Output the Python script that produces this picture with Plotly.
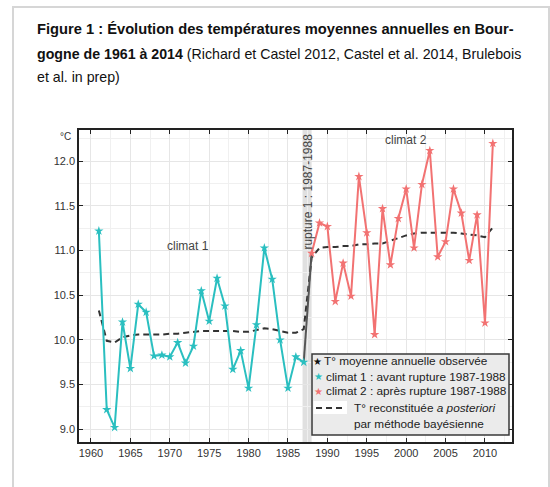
import plotly.graph_objects as go

# ---------------- data ----------------
years_c1 = list(range(1961, 1988))
temp_c1 = [11.22, 9.22, 9.02, 10.20, 9.68, 10.40, 10.31, 9.82, 9.83, 9.81,
           9.97, 9.74, 9.93, 10.55, 10.21, 10.69, 10.38, 9.67, 9.88, 9.46,
           10.17, 11.03, 10.68, 10.00, 9.46, 9.81, 9.75]
years_c2 = list(range(1988, 2012))
temp_c2 = [10.97, 11.31, 11.27, 10.43, 10.86, 10.49, 11.83, 11.20, 10.06, 11.47,
           10.84, 11.36, 11.69, 11.03, 11.74, 12.12, 10.93, 11.10, 11.69, 11.42,
           10.89, 11.40, 10.19, 12.20]
years_rec = list(range(1961, 2012))
temp_rec = [10.33, 9.99, 9.97, 10.03, 10.05, 10.06, 10.06, 10.06, 10.06, 10.07,
            10.07, 10.08, 10.09, 10.10, 10.10, 10.10, 10.10, 10.10, 10.09, 10.09,
            10.11, 10.13, 10.12, 10.10, 10.08, 10.08, 10.12, 10.92, 11.03, 11.04,
            11.04, 11.05, 11.05, 11.07, 11.07, 11.08, 11.08, 11.11, 11.14, 11.17,
            11.19, 11.20, 11.20, 11.20, 11.20, 11.20, 11.19, 11.18, 11.17, 11.15,
            11.26]
rupture = [1986.85, 1988.0]
x_ticks = [1960, 1965, 1970, 1975, 1980, 1985, 1990, 1995, 2000, 2005, 2010]
y_ticks = [9.0, 9.5, 10.0, 10.5, 11.0, 11.5, 12.0]

CYAN = "#2abfc0"
SALMON = "#f27272"
DARK = "#333333"
FONT = "Liberation Sans, Arial, sans-serif"

W, H = 550, 487
L, R, T, B = 79, 38, 130, 45
PW, PH = W - L - R, H - T - B


def px(x):
    return (x - L) / PW


def py(y):
    return (H - B - y) / PH


fig = go.Figure()

# reconstructed (dashed)
fig.add_trace(go.Scatter(x=years_rec, y=temp_rec, mode="lines",
                         line=dict(color=DARK, width=2, dash="6px,4px"),
                         showlegend=False, hoverinfo="skip"))
# observed link between the two climates
fig.add_trace(go.Scatter(x=[years_c1[-1], years_c2[0]], y=[temp_c1[-1], temp_c2[0]],
                         mode="lines", line=dict(color="#555555", width=2),
                         showlegend=False))
fig.add_trace(go.Scatter(x=years_c1, y=temp_c1, mode="lines+markers",
                         line=dict(color=CYAN, width=2),
                         marker=dict(symbol="star", size=7, color=CYAN),
                         showlegend=False))
fig.add_trace(go.Scatter(x=years_c2, y=temp_c2, mode="lines+markers",
                         line=dict(color=SALMON, width=2),
                         marker=dict(symbol="star", size=7, color=SALMON),
                         showlegend=False))

shapes = []
# rupture band
shapes.append(dict(type="rect", xref="x", yref="paper", x0=rupture[0], x1=rupture[1],
                   y0=0, y1=1, fillcolor="#e0e0e0", line=dict(width=0), layer="between"))
# figure frame
shapes.append(dict(type="rect", xref="paper", yref="paper", x0=px(13), x1=px(549),
                   y0=py(492), y1=py(7), line=dict(color="#d6d6d6", width=2),
                   fillcolor="rgba(0,0,0,0)", layer="below"))
# legend box
shapes.append(dict(type="rect", xref="paper", yref="paper", x0=px(312), x1=px(509),
                   y0=py(435), y1=py(354), fillcolor="#ebebeb",
                   line=dict(color="#3a3a3a", width=1.5), layer="above"))
shapes.append(dict(type="rect", xref="paper", yref="paper", x0=px(313.5), x1=px(347),
                   y0=py(414), y1=py(401), fillcolor="white", line=dict(width=0),
                   layer="above"))
shapes.append(dict(type="line", xref="paper", yref="paper", x0=px(316), x1=px(343),
                   y0=py(408), y1=py(408), line=dict(color=DARK, width=2, dash="6px,4px"),
                   layer="above"))

ann = []


def add_text(text, x, y, size=12, color="#333333", xanchor="left", family=FONT, **kw):
    ann.append(dict(text=text, x=px(x), y=py(y), xref="paper", yref="paper",
                    xanchor=xanchor, yanchor="middle", showarrow=False,
                    font=dict(size=size, color=color, family=family), **kw))


add_text("<b>Figure 1 : Évolution des températures moyennes annuelles en Bour-</b>",
         35, 29, size=14.7, color="#111111")
add_text("<b>gogne de 1961 à 2014</b> (Richard et Castel 2012, Castel et al. 2014, Brulebois",
         35, 54, size=14.2, color="#111111")
add_text("et al. in prep)", 35, 77, size=14.2, color="#111111")

add_text("°C", 65, 136, size=10, xanchor="center")
add_text("climat 1", 188, 246, size=12, color="#444444", xanchor="center")
add_text("climat 2", 406, 140, size=12, color="#444444", xanchor="center")

ann.append(dict(text="rupture 1 : 1987-1988", x=sum(rupture) / 2, y=py(191.5),
                xref="x", yref="paper", textangle=-90, showarrow=False,
                xanchor="center", yanchor="middle",
                font=dict(size=12, color="#444444", family=FONT)))

# legend entries
add_text("★", 317, 361, size=10, color="#111111", xanchor="center", family="DejaVu Sans")
add_text("T° moyenne annuelle observée", 322, 361, size=11.8, color="#222222")
add_text("★", 318, 376.5, size=10, color=CYAN, xanchor="center", family="DejaVu Sans")
add_text("climat 1 : avant rupture 1987-1988", 323.5, 376.5, size=11.8, color="#222222")
add_text("★", 318, 391, size=10, color=SALMON, xanchor="center", family="DejaVu Sans")
add_text("climat 2 : après rupture 1987-1988", 323.5, 391, size=11.8, color="#222222")
add_text("T° reconstituée <i>a posteriori</i>", 352, 408, size=11.8, color="#222222")
add_text("par méthode bayésienne", 352, 424, size=11.8, color="#222222")

fig.update_layout(
    width=W, height=H,
    margin=dict(l=L, r=R, t=T, b=B),
    paper_bgcolor="white", plot_bgcolor="white",
    font=dict(family=FONT, size=11, color="#333333"),
    shapes=shapes, annotations=ann,
    showlegend=False,
)
fig.update_xaxes(range=[1958.48, 2013.43], tickvals=x_ticks,
                 ticks="inside", ticklen=4, tickcolor="#222222",
                 showline=True, linecolor="#222222", linewidth=1.5, mirror="ticks",
                 showgrid=True, gridcolor="#e6e6e6", gridwidth=1,
                 minor=dict(dtick=2.5, tick0=1960, showgrid=True, gridcolor="#f0f0f0",
                            ticks=""),
                 zeroline=False, tickfont=dict(size=11, color="#333333"))
fig.update_yaxes(range=[8.857, 12.35], tickvals=y_ticks, tickformat=".1f",
                 ticks="inside", ticklen=4, tickcolor="#222222",
                 showline=True, linecolor="#222222", linewidth=1.5, mirror="ticks",
                 showgrid=True, gridcolor="#e6e6e6", gridwidth=1,
                 minor=dict(dtick=0.25, tick0=9.0, showgrid=True, gridcolor="#f0f0f0",
                            ticks=""),
                 zeroline=False, tickfont=dict(size=11, color="#333333"))

fig.write_html("out.html", config={"displayModeBar": False},
               post_script="document.body.style.margin='0';document.body.style.padding='0';")
